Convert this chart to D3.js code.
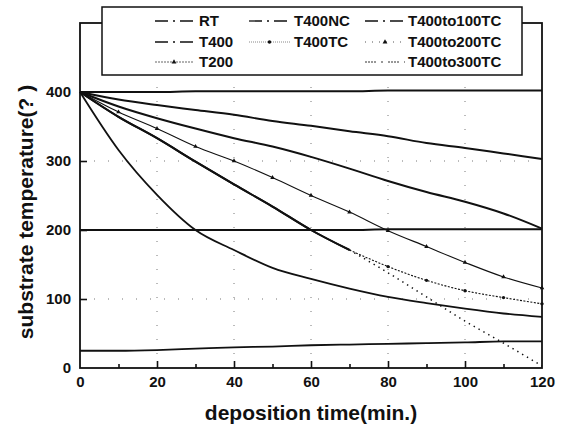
<!DOCTYPE html>
<html lang="en">
<head>
<meta charset="utf-8">
<title>substrate temperature vs deposition time</title>
<style>
  body { margin: 0; background: #fff; }
  svg text { font-family: "Liberation Sans", Arial, sans-serif; font-weight: bold; fill: #111; }
  .grid line { stroke: #777; stroke-width: 1; stroke-dasharray: 1, 13; }
  .curve { fill: none; stroke: #111; stroke-linejoin: round; }
</style>
</head>
<body>
<svg width="562" height="427"></svg>
<script src="https://cdn.jsdelivr.net/npm/d3@7/dist/d3.min.js"></script>
<script>
// deposition time (min.) and substrate temperature
var times = [0, 10, 20, 30, 40, 50, 60, 70, 80, 90, 100, 110, 120];
var rt = [25, 25, 26, 28, 30, 31, 33, 34, 35, 36, 37, 38.5, 38.5];
var t400 = [400, 400, 400, 401, 401, 401, 401, 401, 402, 402, 402, 402, 402];
var t200 = [200, 200, 200, 200, 200, 200, 200, 200, 201, 201, 201, 201, 201];
var t400nc = [400, 316, 251, 200, 171, 145, 129, 115, 103, 94, 86, 79, 74];
var t400to300tc = [400, 389, 381, 374, 367, 358, 351, 343, 336, 326, 319, 311, 303];
var t400to200tc = [400, 379, 362, 347, 333, 321, 306, 289, 271, 255, 241, 224, 202];
var t400to100tc = [400, 371, 347, 321, 300, 276, 250, 226, 199, 176, 153, 132, 116];
var t400tc = [400, 364, 333, 299, 266, 234, 200, 171, 147, 127, 112, 102, 93];
// unlabeled dotted branch that drops to ~0 at 120 min
var steepBranch = [400, 364, 333, 299, 266, 234, 200, 171, 138, 103, 68, 36, 3];

var xTicks = [0, 20, 40, 60, 80, 100, 120];
var xMinor = [10, 30, 50, 70, 90, 110];
var yTicks = [0, 100, 200, 300, 400];
var legendNames = ["RT", "T400", "T200", "T400NC", "T400TC", "T400to100TC", "T400to200TC", "T400to300TC"];

var svg = d3.select("svg");
var x = d3.scaleLinear().domain([0, 120]).range([80, 542]);
var y = d3.scaleLinear().domain([0, 500]).range([368, 23]);

// sparse dotted grid
var grid = svg.append("g").attr("class", "grid");
grid.selectAll("line.v").data([20, 40, 60, 80, 100]).enter().append("line")
    .attr("x1", d => x(d)).attr("x2", d => x(d))
    .attr("y1", y(0)).attr("y2", y(500));
grid.selectAll("line.h").data([100, 300]).enter().append("line")
    .attr("x1", x(0)).attr("x2", x(120))
    .attr("y1", d => y(d)).attr("y2", d => y(d));

function pts(vals) {
    return times.map((t, i) => [t, vals[i]]);
}

var line = d3.line()
    .x(d => x(d[0]))
    .y(d => y(d[1]))
    .curve(d3.curveMonotoneX);

var series = [
    { vals: rt, w: 1.8 },
    { vals: t400, w: 2 },
    { vals: t200, w: 2 },
    { vals: t400nc, w: 1.8 },
    { vals: t400to300tc, w: 2 },
    { vals: t400to200tc, w: 2 },
    { vals: t400to100tc, w: 1.1, marker: "triangle" },
    { vals: t400tc, w: 2, splitAt: 70, dash: "2,1.5", tailW: 1.1, marker: "circle" },
    { vals: steepBranch, w: 2, splitAt: 70, dash: "1.4,4.2", tailW: 1.5 }
];

var plot = svg.append("g");
series.forEach(function(s) {
    var p = pts(s.vals);
    if (s.splitAt != null) {
        plot.append("path").attr("class", "curve")
            .attr("d", line(p.filter(d => d[0] <= s.splitAt)))
            .attr("stroke-width", s.w);
        plot.append("path").attr("class", "curve")
            .attr("d", line(p.filter(d => d[0] >= s.splitAt)))
            .attr("stroke-width", s.tailW)
            .attr("stroke-dasharray", s.dash);
    } else {
        plot.append("path").attr("class", "curve")
            .attr("d", line(p))
            .attr("stroke-width", s.w);
    }
    if (s.marker) {
        var mk = p.filter(d => d[0] > 0 && (s.splitAt == null || d[0] > s.splitAt));
        var sym = d3.symbol().type(s.marker == "circle" ? d3.symbolCircle : d3.symbolTriangle).size(9);
        plot.selectAll(null).data(mk).enter().append("path")
            .attr("d", sym)
            .attr("transform", d => "translate(" + x(d[0]) + "," + y(d[1]) + ")")
            .attr("fill", "#111");
    }
});

// axes, ticks pointing inward
var yAxis = svg.append("g").attr("transform", "translate(" + x(0) + ",0)")
    .call(d3.axisLeft(y).tickValues(yTicks).tickSize(-7).tickPadding(9).tickFormat(d3.format("d")));
var xAxis = svg.append("g").attr("transform", "translate(0," + y(0) + ")")
    .call(d3.axisBottom(x).tickValues(xTicks).tickSize(-7).tickPadding(8).tickFormat(d3.format("d")));
var xAxisMinor = svg.append("g").attr("transform", "translate(0," + y(0) + ")")
    .call(d3.axisBottom(x).tickValues(xMinor).tickSize(-4).tickFormat(""));
[yAxis, xAxis, xAxisMinor].forEach(function(a) {
    a.select(".domain").remove();
    a.selectAll("line").attr("stroke", "#111").attr("stroke-width", 1.6);
    a.selectAll("text").attr("font-size", 15).attr("fill", "#111");
});
yAxis.selectAll(".tick").filter(d => d == 0).select("line").remove();
xAxis.selectAll(".tick").filter(d => d == 0 || d == 120).select("line").remove();

// frame
svg.append("rect")
    .attr("x", x(0)).attr("y", y(500))
    .attr("width", x(120) - x(0)).attr("height", y(0) - y(500))
    .attr("fill", "none").attr("stroke", "#111").attr("stroke-width", 1.8);

// axis titles
svg.append("text")
    .attr("x", 311).attr("y", 420)
    .attr("text-anchor", "middle").attr("font-size", 21)
    .text("deposition time(min.)");
svg.append("text")
    .attr("transform", "translate(33,212) rotate(-90)")
    .attr("text-anchor", "middle").attr("font-size", 21)
    .text("substrate temperature(? )");

// legend
var legend = svg.append("g");
legend.append("rect")
    .attr("x", 102).attr("y", 7).attr("width", 420).attr("height", 68)
    .attr("fill", "#fff").attr("stroke", "#111").attr("stroke-width", 1.5);

var cols = [{ x0: 155, x1: 193, tx: 199 }, { x0: 249, x1: 290, tx: 294 }, { x0: 365, x1: 405, tx: 408 }];
var rows = [26, 47, 67];
var slot = {
    "RT": [0, 0], "T400": [0, 1], "T200": [0, 2],
    "T400NC": [1, 0], "T400TC": [1, 1],
    "T400to100TC": [2, 0], "T400to200TC": [2, 1], "T400to300TC": [2, 2]
};
var sample = {
    "RT": { dash: "13,5,2,5", c: "#111", w: 1.3 },
    "T400": { dash: "13,5,2,5", c: "#111", w: 1.3 },
    "T200": { dash: "2,1", c: "#666", w: 1.2, m: d3.symbolTriangle },
    "T400NC": { dash: "13,5,2,5", c: "#111", w: 1.3 },
    "T400TC": { dash: "1,1", c: "#888", w: 1, m: d3.symbolCircle },
    "T400to100TC": { dash: "13,5,2,5", c: "#111", w: 1.3 },
    "T400to200TC": { dash: "1,6", c: "#555", w: 1.2, m: d3.symbolTriangle },
    "T400to300TC": { dash: "2,1,2,1,2,1,2,5,2,5", c: "#333", w: 1.2 }
};
legendNames.forEach(function(name) {
    var c = cols[slot[name][0]], r = rows[slot[name][1]], st = sample[name];
    legend.append("line")
        .attr("x1", c.x0).attr("x2", c.x1).attr("y1", r - 5).attr("y2", r - 5)
        .attr("stroke", st.c).attr("stroke-width", st.w).attr("stroke-dasharray", st.dash);
    if (st.m) {
        legend.append("path")
            .attr("d", d3.symbol().type(st.m).size(10))
            .attr("transform", "translate(" + (c.x0 + c.x1) / 2 + "," + (r - 5) + ")")
            .attr("fill", "#111");
    }
    legend.append("text")
        .attr("x", c.tx).attr("y", r)
        .attr("font-size", 15)
        .text(name);
});
</script>
</body>
</html>
